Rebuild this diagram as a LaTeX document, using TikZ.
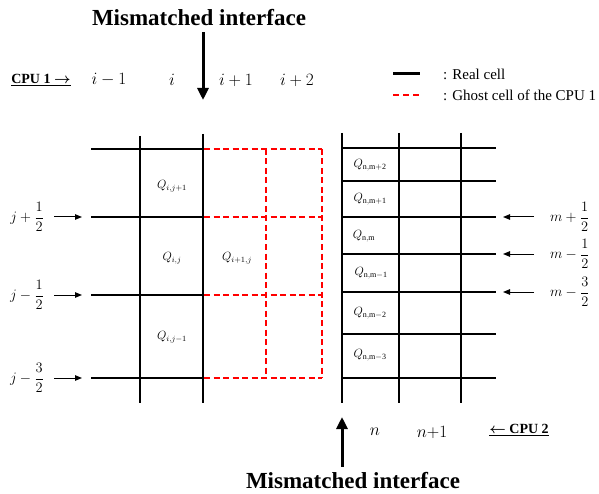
\documentclass[tikz,border=0pt]{standalone}
\usepackage{amsmath}
\usepackage{fontspec}
\setmainfont{Liberation Serif}
\usetikzlibrary{arrows.meta,positioning}
\definecolor{ghostred}{HTML}{FF0000}

\begin{document}
\begin{tikzpicture}[x=1pt,y=-1pt,
    realline/.style={line width=2.3pt},
    ghostline/.style={line width=2pt,ghostred,dash pattern=on 6pt off 3.5pt},
    ptr/.style={line width=1pt,-{Triangle[length=7pt,width=5.5pt]}},
    bigptr/.style={line width=3pt,-{Triangle[length=12pt,width=11pt]}},
    cell/.style={font=\fontsize{12}{14}\selectfont},
    idx/.style={font=\fontsize{15}{18}\selectfont},
    colidx/.style={font=\fontsize{17}{20}\selectfont},
    cpu/.style={font=\bfseries\fontsize{14}{16}\selectfont},
    mis/.style={font=\bfseries\fontsize{23}{26}\selectfont,inner sep=0pt},
    legend/.style={font=\fontsize{15}{17}\selectfont,anchor=west,inner sep=0pt}]
  \useasboundingbox (0,0) rectangle (599,494);

  % left block (CPU 1)
  \foreach \y in {149,217,295,378}
    \draw[realline] (91,\y) -- (203,\y);
  \draw[realline] (140,136) -- (140,403);
  \draw[realline] (203,134) -- (203,403);
  % ghost cells of CPU 1
  \foreach \y in {149,217,295,378}
    \draw[ghostline] (204,\y) -- (322,\y);
  \foreach \x in {266,322}
    \draw[ghostline] (\x,149) -- (\x,378);

  % right block (CPU 2)
  \foreach \y in {148,181,217,254,292,334,378}
    \draw[realline] (342,\y) -- (496,\y);
  \foreach \x in {342,399,461}
    \draw[realline] (\x,133) -- (\x,403);

  % cell values
  \node[cell] (qijp) at (172,186) {$Q_{i,j+1}$};
  \node[cell] (qij)  at (172,258) {$Q_{i,j}$};
  \node[cell] (qipj) at (237,258) {$Q_{i+1,j}$};
  \node[cell] (qijm) at (172,337) {$Q_{i,j-1}$};
  \node[cell] (qmp2) at (370,165) {$Q_{\mathrm{n,m+2}}$};
  \node[cell] (qmp1) at (370,199) {$Q_{\mathrm{n,m+1}}$};
  \node[cell] (qm)   at (364,236) {$Q_{\mathrm{n,m}}$};
  \node[cell] (qmm1) at (371,273) {$Q_{\mathrm{n,m-1}}$};
  \node[cell] (qmm2) at (370,313) {$Q_{\mathrm{n,m-2}}$};
  \node[cell] (qmm3) at (370,355) {$Q_{\mathrm{n,m-3}}$};

  % column indices
  \node[cpu] (cpu1) at (41,80) {\underline{CPU 1 $\boldsymbol{\rightarrow}$}};
  \node[colidx] (im)  at (109,80) {$i-1$};
  \node[colidx] (i)   at (172,80) {$i$};
  \node[colidx] (ip)  at (236,80) {$i+1$};
  \node[colidx] (ipp) at (297,80) {$i+2$};
  \node[colidx] (n)   at (375,432) {$n$};
  \node[colidx] (np)  at (432,432) {$n{+}1$};
  \node[cpu] (cpu2) at (519,430) {\underline{$\boldsymbol{\leftarrow}$ CPU 2}};

  % row indices
  \node[idx,anchor=east,inner sep=1pt] (jp) at (45,217) {$j+\dfrac{1}{2}$};
  \node[idx,anchor=east,inner sep=1pt] (jm) at (45,295) {$j-\dfrac{1}{2}$};
  \node[idx,anchor=east,inner sep=1pt] (jmm) at (45,378) {$j-\dfrac{3}{2}$};
  \coordinate (jpe) at (82,217);
  \coordinate (jme) at (82,295);
  \coordinate (jmme) at (82,378);
  \draw[ptr] ([xshift=9pt]jp.east) -- (jpe);
  \draw[ptr] ([xshift=9pt]jm.east) -- (jme);
  \draw[ptr] ([xshift=9pt]jmm.east) -- (jmme);

  \node[idx,anchor=west,inner sep=1pt] (mp) at (549,217) {$m+\dfrac{1}{2}$};
  \node[idx,anchor=west,inner sep=1pt] (mm) at (549,254) {$m-\dfrac{1}{2}$};
  \node[idx,anchor=west,inner sep=1pt] (mmm) at (549,292) {$m-\dfrac{3}{2}$};
  \coordinate (mpe) at (503,217);
  \coordinate (mme) at (503,254);
  \coordinate (mmme) at (503,292);
  \draw[ptr] ([xshift=-15pt]mp.west) -- (mpe);
  \draw[ptr] ([xshift=-15pt]mm.west) -- (mme);
  \draw[ptr] ([xshift=-15pt]mmm.west) -- (mmme);

  % interfaces
  \node[mis] (topmis) at (199,18) {Mismatched interface};
  \coordinate (toptip) at (203,100);
  \draw[bigptr] ([yshift=-6pt]topmis.south -| toptip) -- (toptip);
  \node[mis] (botmis) at (353,481) {Mismatched interface};
  \coordinate (bottip) at (342,417);
  \draw[bigptr] ([yshift=6pt]botmis.north -| bottip) -- (bottip);

  % legend
  \coordinate (lra) at (393,74);
  \coordinate (lrb) at (420,74);
  \coordinate (lga) at (393,95);
  \coordinate (lgb) at (420,95);
  \draw[line width=3pt] (lra) -- (lrb);
  \draw[line width=2.5pt,ghostred,dash pattern=on 6pt off 4pt] (lga) -- (lgb);
  \node[legend] (lreal) at (443,74) {: Real cell};
  \node[legend] (lghost) at (443,95) {: Ghost cell of the CPU 1};
\end{tikzpicture}
\end{document}
